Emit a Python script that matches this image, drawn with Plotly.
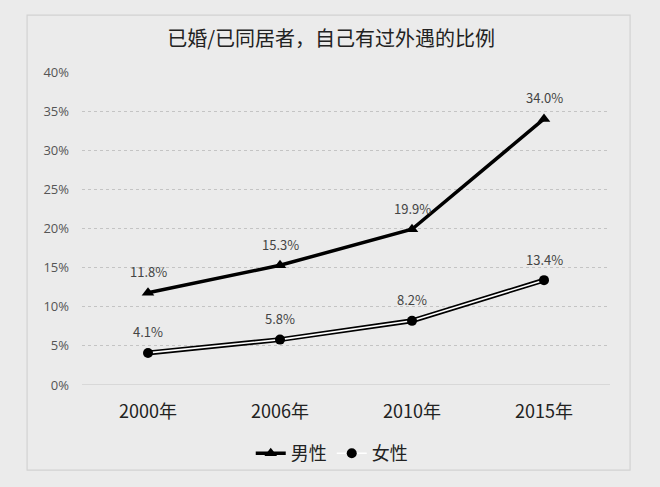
import plotly.graph_objects as go

years = ["2000年", "2006年", "2010年", "2015年"]
male = [11.8, 15.3, 19.9, 34.0]
female = [4.1, 5.8, 8.2, 13.4]
y_ticks = [0, 5, 10, 15, 20, 25, 30, 35, 40]

font_cn = "Noto Sans CJK SC, Microsoft YaHei, sans-serif"

fig = go.Figure()

# male: thick black line with triangles
fig.add_trace(go.Scatter(
    x=years, y=male, name="男性",
    mode="lines+markers",
    line=dict(color="black", width=3.5),
    marker=dict(symbol="triangle-up", size=11, color="black"),
))

# female: double line = black wide line under a thin white one
fig.add_trace(go.Scatter(
    x=years, y=female, showlegend=False, hoverinfo="skip",
    mode="lines",
    line=dict(color="black", width=5),
))
fig.add_trace(go.Scatter(
    x=years, y=female, name="女性",
    mode="lines+markers",
    line=dict(color="white", width=1.6),
    marker=dict(symbol="circle", size=10, color="black"),
))

# data labels above the points
for series in (male, female):
    for yr, v in zip(years, series):
        fig.add_annotation(x=yr, y=v, text=f"{v:.1f}%", showarrow=False,
                           yshift=21, font=dict(size=13, color="#444444"))

# outer chart frame
fig.add_shape(type="rect", xref="paper", yref="paper",
              x0=-0.104, x1=1.038, y0=-0.272, y1=1.182,
              line=dict(color="#d2d2d2", width=1.2), layer="below")

fig.update_layout(
    width=660, height=487,
    margin=dict(l=82, r=50, t=72, b=102),
    paper_bgcolor="#ebebeb", plot_bgcolor="#ebebeb",
    font=dict(family=font_cn, color="#222222"),
    title=dict(text="已婚/已同居者，自己有过外遇的比例",
               x=0.472, xref="paper", xanchor="center", y=0.935,
               font=dict(size=20, color="#222222")),
    showlegend=True,
    legend=dict(orientation="h", x=0.473, xanchor="center", y=-0.16, yanchor="top",
                font=dict(size=18, color="#222222"), bgcolor="rgba(0,0,0,0)",
                itemwidth=30, tracegroupgap=0),
)

fig.update_xaxes(
    type="category", range=[-0.5, 3.5],
    showgrid=False, showline=False, zeroline=False, ticks="",
    ticklabelstandoff=14,
    tickfont=dict(size=18, color="#222222"),
)
fig.update_yaxes(
    range=[0, 40], tickvals=y_ticks, ticktext=[f"{v}%" for v in y_ticks],
    showgrid=True, gridcolor="#c4c4c4", gridwidth=1, griddash="dot",
    zeroline=False, showline=False, ticks="", ticklabelstandoff=12,
    tickfont=dict(size=13, color="#555555", family="Open Sans, sans-serif"),
)
fig.add_hline(y=0, line=dict(color="#c4c4c4", width=1), layer="below")

fig.write_html("out.html",
               config={"displayModeBar": False},
               post_script="document.body.style.margin='0';"
                           "document.body.style.background='#ebebeb';")
